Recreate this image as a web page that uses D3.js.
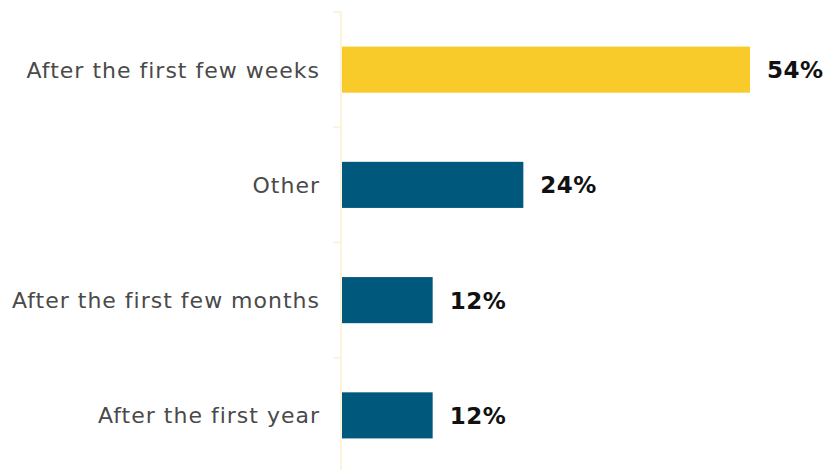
<!DOCTYPE html>
<html>
<head>
<meta charset="utf-8">
<script src="https://cdn.jsdelivr.net/npm/d3@7"></script>
<style>
  html, body { margin: 0; padding: 0; background: #ffffff; }
  svg { display: block; }
</style>
</head>
<body>
<svg id="chart" width="829" height="471"></svg>
<script>
// Survey answers, top to bottom
const categories = ["After the first few weeks", "Other", "After the first few months", "After the first year"];
const shares = [54, 24, 12, 12];
const highlight = "After the first few weeks";

const width = 829, height = 471;
const margin = { left: 341, right: 0, top: 12, bottom: -2 };

const svg = d3.select("#chart");

const y = d3.scaleBand()
  .domain(categories)
  .range([margin.top, height - margin.bottom])
  .paddingInner(0.6)
  .paddingOuter(0.3);

const x = d3.scaleLinear()
  .domain([0, 54])
  .range([margin.left + 1, 750]);

// Category axis with faint ticks at the band edges
const axisColor = "#fdf3dc";
const edges = categories.map(c => y(c) - y.step() * y.paddingInner() / 2);

svg.append("line")
  .attr("x1", margin.left).attr("x2", margin.left)
  .attr("y1", margin.top).attr("y2", 470)
  .attr("stroke", axisColor).attr("stroke-width", 2);

svg.selectAll("line.tick")
  .data(edges)
  .join("line")
  .attr("class", "tick")
  .attr("x1", margin.left - 8).attr("x2", margin.left)
  .attr("y1", d => d).attr("y2", d => d)
  .attr("stroke", axisColor).attr("stroke-width", 2);

// Bars
svg.selectAll("rect.bar")
  .data(categories)
  .join("rect")
  .attr("class", "bar")
  .attr("x", x(0))
  .attr("y", d => y(d))
  .attr("width", (d, i) => x(shares[i]) - x(0))
  .attr("height", y.bandwidth())
  .attr("fill", d => d === highlight ? "#f8cb2b" : "#00587c");

// Category labels
svg.selectAll("text.cat")
  .data(categories)
  .join("text")
  .attr("class", "cat")
  .attr("x", 320)
  .attr("y", d => y(d) + y.bandwidth() / 2)
  .attr("dy", "0.36em")
  .attr("text-anchor", "end")
  .attr("font-family", "DejaVu Sans, sans-serif")
  .attr("font-size", 22)
  .attr("letter-spacing", 1)
  .attr("fill", "#4a4a4a")
  .text(d => d);

// Value labels
svg.selectAll("text.val")
  .data(categories)
  .join("text")
  .attr("class", "val")
  .attr("x", (d, i) => x(shares[i]) + 17)
  .attr("y", d => y(d) + y.bandwidth() / 2)
  .attr("dy", "0.37em")
  .attr("font-family", "DejaVu Sans, sans-serif")
  .attr("font-weight", "bold")
  .attr("font-size", 23)
  .attr("letter-spacing", 0.5)
  .attr("fill", "#111111")
  .text((d, i) => shares[i] + "%");
</script>
</body>
</html>
